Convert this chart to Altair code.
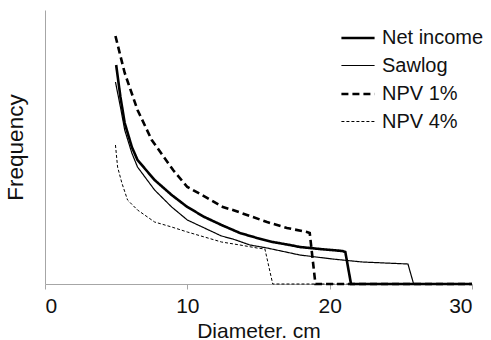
import altair as alt
import pandas as pd

series_order = ["Net income", "Sawlog", "NPV 1%", "NPV 4%"]

net_x = [5.0, 5.3, 5.6, 6.1, 6.5, 7.7, 8.9, 10.0, 11.2, 12.4, 13.7, 14.9, 16.0, 17.2, 17.9, 19.3, 20.9, 21.1, 21.5, 30]
net_y = [219, 187, 161, 137, 124, 104, 89, 77, 67, 59, 51, 46, 42, 39, 37, 35, 33, 32, 0, 0]

saw_x = [4.95, 5.3, 5.6, 6.1, 6.5, 7.7, 8.9, 10.0, 11.2, 12.4, 13.2, 14.4, 15.6, 17.9, 20.2, 22.3, 25.5, 25.9, 30]
saw_y = [202, 177, 154, 131, 117, 94, 77, 64, 56, 48, 45, 39, 36, 29, 25, 22, 20, 0, 0]

npv1_x = [4.95, 5.6, 6.5, 7.5, 8.4, 9.0, 10.0, 10.9, 12.5, 13.2, 14.4, 15.6, 17.0, 18.4, 18.6, 19.0, 30]
npv1_y = [248, 211, 174, 144, 126, 114, 97, 90, 77, 74, 68, 62, 56, 52, 51, 0, 0]

npv4_x = [4.95, 5.1, 5.4, 5.8, 6.5, 7.7, 8.9, 10.0, 11.2, 12.4, 13.7, 14.9, 15.45, 16.0, 30]
npv4_y = [139, 117, 101, 84, 74, 62, 57, 52, 47, 42, 39, 36, 35, 0, 0]

x_ticks = [0, 10, 20, 30]

rows = []
for name, xs, ys in [("Net income", net_x, net_y), ("Sawlog", saw_x, saw_y),
                     ("NPV 1%", npv1_x, npv1_y), ("NPV 4%", npv4_x, npv4_y)]:
    for i, (a, b) in enumerate(zip(xs, ys)):
        rows.append({"series": name, "d": a, "f": b, "i": i})
df = pd.DataFrame(rows)

FONT = "Liberation Sans"

legend = alt.Legend(title=None, orient="none", legendX=295, legendY=10,
                    symbolType="stroke", symbolSize=1100,
                    labelFontSize=20, labelFont=FONT, labelColor="#111",
                    rowPadding=0, labelOffset=6, padding=0,
                    symbolStrokeColor="black")

chart = alt.Chart(df).mark_line(color="black", strokeCap="butt", strokeJoin="miter").encode(
    x=alt.X("d:Q", title="Diameter. cm",
            scale=alt.Scale(domain=[0, 30], nice=False, zero=False),
            axis=alt.Axis(values=x_ticks, grid=False, tickSize=5, labelPadding=6,
                          titlePadding=4, labelFontSize=21, titleFontSize=21,
                          titleFontWeight="normal", domainColor="#a6a6a6",
                          tickColor="#a6a6a6", labelColor="#111", titleColor="#111",
                          labelFont=FONT, titleFont=FONT, format="d")),
    y=alt.Y("f:Q", title="Frequency",
            scale=alt.Scale(domain=[0, 274], nice=False),
            axis=alt.Axis(ticks=False, labels=False, grid=False, titlePadding=18,
                          titleFontSize=22.5, titleFontWeight="normal",
                          domainColor="#a6a6a6", titleColor="#111", titleFont=FONT)),
    order="i:Q",
    detail="series:N",
    strokeDash=alt.StrokeDash("series:N",
                              scale=alt.Scale(type="ordinal", domain=series_order,
                                              range=[[1, 0], [1, 0], [7, 4], [3, 2]]),
                              legend=legend),
    strokeWidth=alt.StrokeWidth("series:N",
                                scale=alt.Scale(type="ordinal", domain=series_order,
                                                range=[2.6, 1.2, 2.6, 1.0]),
                                legend=legend),
).properties(
    width=427, height=274,
    padding={"left": 45, "top": 10, "right": 19, "bottom": 56},
    autosize="none",
).configure_view(stroke=None)

chart.save("out.html", embed_options={"renderer": "svg", "actions": False})
